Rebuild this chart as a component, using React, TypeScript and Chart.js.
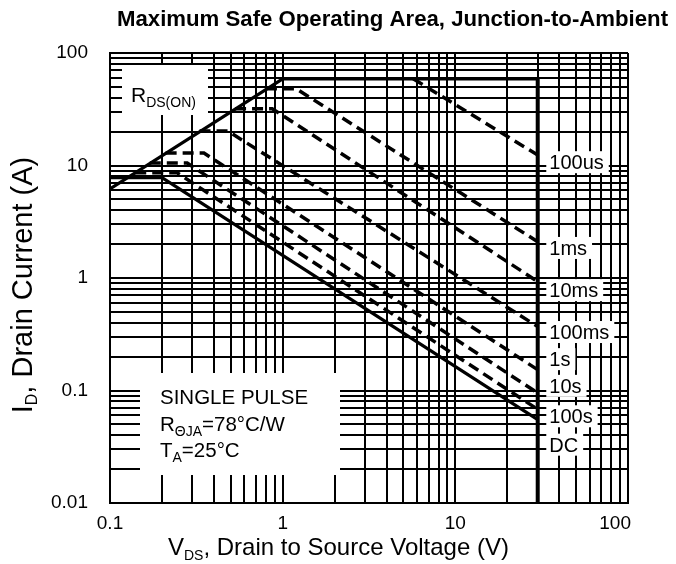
import React, { useEffect, useRef } from "react";
import { Chart, registerables } from "chart.js";

Chart.register(...registerables);

const FONT = '"Liberation Sans", Arial, Helvetica, sans-serif';

// Grid / tick values (log decades with minor lines)
const xGridValues = [
  0.1, 0.2, 0.3, 0.4, 0.5, 0.6, 0.7, 0.8, 0.9,
  1, 2, 3, 4, 5, 6, 7, 8, 9,
  10, 20, 30, 40, 50, 60, 70, 80, 90, 100,
];
const yGridValues = [
  0.01, 0.02, 0.03, 0.04, 0.05, 0.06, 0.07, 0.08, 0.09,
  0.1, 0.2, 0.3, 0.4, 0.5, 0.6, 0.7, 0.8, 0.9,
  1, 2, 3, 4, 5, 6, 7, 8, 9,
  10, 20, 30, 40, 50, 60, 70, 80, 90, 100,
];
const xTickLabels = ["0.1", "1", "10", "100"];
const yTickLabels = ["0.01", "0.1", "1", "10", "100"];

// Series (VDS in V, ID in A)
const envelopeV = [0.1, 1, 30];
const envelopeI = [6.2, 59, 59];
const limitV = [30, 30];
const limitI = [59, 0.01];
const us100V = [5.7, 30];
const us100I = [59, 12.4];
const ms1V = [0.8, 1.2, 30];
const ms1I = [48, 48, 2.1];
const ms10V = [0.53, 0.87, 30];
const ms10I = [32, 32, 0.93];
const ms100V = [0.33, 0.48, 30];
const ms100I = [20.3, 20.3, 0.37];
const s1V = [0.21, 0.35, 30];
const s1I = [12.9, 12.9, 0.153];
const s10V = [0.17, 0.28, 30];
const s10I = [10.5, 10.5, 0.095];
const s100V = [0.14, 0.245, 30];
const s100I = [8.6, 8.6, 0.068];
const dcV = [0.1, 0.2, 30];
const dcI = [7.8, 7.8, 0.055];

// Curve labels at the right
const curveNames = ["100us", "1ms", "10ms", "100ms", "1s", "10s", "100s", "DC"];
const curveLabelI = [10.7, 1.85, 0.78, 0.331, 0.19, 0.11, 0.059, 0.033];
const curveLabelV = 35;

const zip = (xs: number[], ys: number[]) => xs.map((x, i) => ({ x, y: ys[i] }));

type Part = { t: string; size: number; dy?: number; bold?: boolean };

function setFont(ctx: CanvasRenderingContext2D, p: Part) {
  ctx.font = `${p.bold ? "bold " : ""}${p.size}px ${FONT}`;
}
function richWidth(ctx: CanvasRenderingContext2D, parts: Part[]) {
  let w = 0;
  for (const p of parts) {
    setFont(ctx, p);
    w += ctx.measureText(p.t).width;
  }
  return w;
}
function drawRich(ctx: CanvasRenderingContext2D, x: number, y: number, parts: Part[]) {
  let cx = x;
  ctx.textAlign = "left";
  ctx.textBaseline = "alphabetic";
  ctx.fillStyle = "#000";
  for (const p of parts) {
    setFont(ctx, p);
    ctx.fillText(p.t, cx, y + (p.dy || 0));
    cx += ctx.measureText(p.t).width;
  }
}

const LABEL_SIZE = 20;
const TICK_SIZE = 19;

const annotate = {
  id: "annotate",
  beforeDatasetsDraw(chart: any) {
    const ctx: CanvasRenderingContext2D = chart.ctx;
    const { left, top } = chart.chartArea;
    const xs = chart.scales.x;
    const ys = chart.scales.y;
    ctx.save();
    ctx.fillStyle = "#fff";
    // RDS(ON) box
    ctx.fillRect(left + 12, top + 12, 86, 50);
    // Conditions box
    ctx.fillRect(left + 30, 373, 200, 102);
    // Curve label boxes
    const lx = xs.getPixelForValue(curveLabelV);
    ctx.font = `${LABEL_SIZE}px ${FONT}`;
    curveNames.forEach((name, i) => {
      const cy = ys.getPixelForValue(curveLabelI[i]);
      const w = ctx.measureText(name).width;
      ctx.fillRect(lx - 3, cy - 11, w + 8, 22);
    });
    ctx.restore();
  },
  afterDraw(chart: any) {
    const ctx: CanvasRenderingContext2D = chart.ctx;
    const { left, top, bottom } = chart.chartArea;
    const xs = chart.scales.x;
    const ys = chart.scales.y;
    ctx.save();
    // X tick labels (last one kept inside the plot's right edge, as in the source)
    ctx.font = `${TICK_SIZE}px ${FONT}`;
    ctx.fillStyle = "#000";
    ctx.textBaseline = "middle";
    xTickLabels.forEach((l, i) => {
      const px = xs.getPixelForValue(Number(l));
      const last = i === xTickLabels.length - 1;
      ctx.textAlign = last ? "right" : "center";
      ctx.fillText(l, last ? px + 3 : px, bottom + 21);
    });
    // Title
    drawRich(ctx, 117, 26, [
      { t: "Maximum Safe Operating Area, Junction-to-Ambient", size: 22.2, bold: true },
    ]);
    // X axis title
    drawRich(ctx, 168, 555, [
      { t: "V", size: 24 },
      { t: "DS", size: 14, dy: 5 },
      { t: ", Drain to Source Voltage (V)", size: 24 },
    ]);
    // Y axis title
    const yParts: Part[] = [
      { t: "I", size: 29 },
      { t: "D", size: 16, dy: 5 },
      { t: ", Drain Current (A)", size: 29 },
    ];
    const yw = richWidth(ctx, yParts);
    ctx.save();
    ctx.translate(32, 285);
    ctx.rotate(-Math.PI / 2);
    drawRich(ctx, -yw / 2, 0, yParts);
    ctx.restore();
    // RDS(ON)
    drawRich(ctx, left + 21, top + 49, [
      { t: "R", size: 21 },
      { t: "DS(ON)", size: 14, dy: 5 },
    ]);
    // Conditions
    const ax = left + 50;
    drawRich(ctx, ax, 404, [{ t: "SINGLE PULSE", size: 20.5 }]);
    drawRich(ctx, ax, 430.5, [
      { t: "R", size: 20.5 },
      { t: "ΘJA", size: 14, dy: 5 },
      { t: "=78°C/W", size: 20.5 },
    ]);
    drawRich(ctx, ax, 457, [
      { t: "T", size: 20.5 },
      { t: "A", size: 14, dy: 5 },
      { t: "=25°C", size: 20.5 },
    ]);
    // Curve labels
    const lx = xs.getPixelForValue(curveLabelV);
    curveNames.forEach((name, i) => {
      const cy = ys.getPixelForValue(curveLabelI[i]);
      drawRich(ctx, lx, cy + LABEL_SIZE * 0.358, [{ t: name, size: LABEL_SIZE }]);
    });
    ctx.restore();
  },
};

function findLabel(labels: string[], value: number) {
  const hit = labels.find((l) => Math.abs(Number(l) - value) < 1e-9 * Math.max(1, value));
  return hit ?? "";
}

export default function App() {
  const ref = useRef<HTMLCanvasElement | null>(null);
  useEffect(() => {
    if (!ref.current) return;
    const solid = (data: any) => ({
      data,
      showLine: true,
      borderColor: "#000",
      borderWidth: 3.2,
      pointRadius: 0,
      fill: false,
    });
    const dashed = (data: any) => ({
      data,
      showLine: true,
      borderColor: "#000",
      borderWidth: 3.5,
      borderDash: [11, 6],
      pointRadius: 0,
      fill: false,
    });
    const chart = new Chart(ref.current, {
      type: "scatter",
      data: {
        datasets: [
          solid(zip(envelopeV, envelopeI)),
          { ...solid(zip(limitV, limitI)), borderWidth: 4 },
          dashed(zip(us100V, us100I)),
          dashed(zip(ms1V, ms1I)),
          dashed(zip(ms10V, ms10I)),
          dashed(zip(ms100V, ms100I)),
          dashed(zip(s1V, s1I)),
          dashed(zip(s10V, s10I)),
          dashed(zip(s100V, s100I)),
          solid(zip(dcV, dcI)),
        ] as any,
      },
      options: {
        responsive: false,
        animation: false,
        events: [],
        layout: { padding: { left: 0, top: 53, right: 48, bottom: 0 } },
        plugins: {
          legend: { display: false },
          tooltip: { enabled: false },
          title: { display: false },
        },
        scales: {
          x: {
            type: "logarithmic",
            min: 0.1,
            max: 100,
            afterBuildTicks: (s: any) => {
              s.ticks = xGridValues.map((v) => ({ value: v }));
            },
            afterFit: (s: any) => {
              s.height = 61;
            },
            grid: { color: "#000", lineWidth: 2, drawTicks: false },
            border: { color: "#000", width: 2 },
            ticks: { display: false },
          },
          y: {
            type: "logarithmic",
            min: 0.01,
            max: 100,
            afterBuildTicks: (s: any) => {
              s.ticks = yGridValues.map((v) => ({ value: v }));
            },
            afterFit: (s: any) => {
              s.width = 110;
            },
            grid: { color: "#000", lineWidth: 2, drawTicks: false },
            border: { color: "#000", width: 2 },
            ticks: {
              autoSkip: false,
              padding: 22,
              color: "#000",
              font: { family: FONT, size: TICK_SIZE },
              callback: (v: any) => findLabel(yTickLabels, Number(v)),
            },
          },
        },
      } as any,
      plugins: [annotate],
    });
    return () => chart.destroy();
  }, []);
  return (
    <div style={{ position: "absolute", left: 0, top: 0, width: 676, height: 564, background: "#fff" }}>
      <canvas ref={ref} width={676} height={564} style={{ display: "block" }} />
    </div>
  );
}
